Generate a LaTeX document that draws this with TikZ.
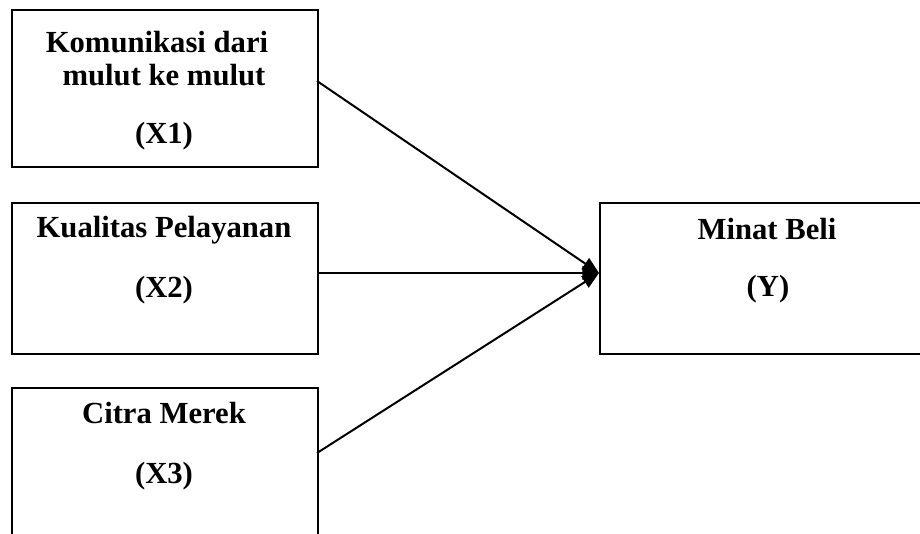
\documentclass[tikz,border=0pt]{standalone}
\usepackage{fontspec}
\setmainfont{Liberation Serif}
\usetikzlibrary{arrows.meta}
\begin{document}
\begin{tikzpicture}[x=0.75pt,y=-0.75pt,
  box/.style={draw,line width=1.5pt,anchor=north west,inner sep=0pt,minimum width=229.5pt},
  lbl/.style={anchor=base,inner sep=0pt,font=\fontsize{23pt}{26pt}\selectfont\bfseries},
  conn/.style={line width=1.5pt,-{Triangle[length=12.5pt,width=10pt]}}]
\useasboundingbox (0,0) rectangle (920,534);
\clip (0,0) rectangle (920,534);
\node[box,minimum height=117.75pt] (x1) at (11,9) {};
\node[box,minimum height=113.25pt] (x2) at (11,202) {};
\node[box,minimum height=120pt] (x3) at (11,387) {};
\node[box,minimum width=255pt,minimum height=113.25pt] (y) at (599,202) {};
\node[lbl] (t1a) at (157,53) {Komunikasi dari};
\node[lbl] (t1b) at (164,86) {mulut ke mulut};
\node[lbl] (t1c) at (164,144) {(X1)};
\node[lbl] (t2a) at (164,238) {Kualitas Pelayanan};
\node[lbl] (t2b) at (164,298) {(X2)};
\node[lbl] (t3a) at (164,423) {Citra Merek};
\node[lbl] (t3b) at (164,483) {(X3)};
\node[lbl] (tya) at (767,240) {Minat Beli};
\node[lbl] (tyb) at (768,297) {(Y)};
\coordinate (s1) at (317,81);
\coordinate (s2) at (317,273);
\coordinate (s3) at (317,453);
\coordinate (tip) at (599,273);
\draw[conn] (s1) -- (tip);
\draw[conn] (s2) -- (tip);
\draw[conn] (s3) -- (tip);
\end{tikzpicture}
\end{document}
